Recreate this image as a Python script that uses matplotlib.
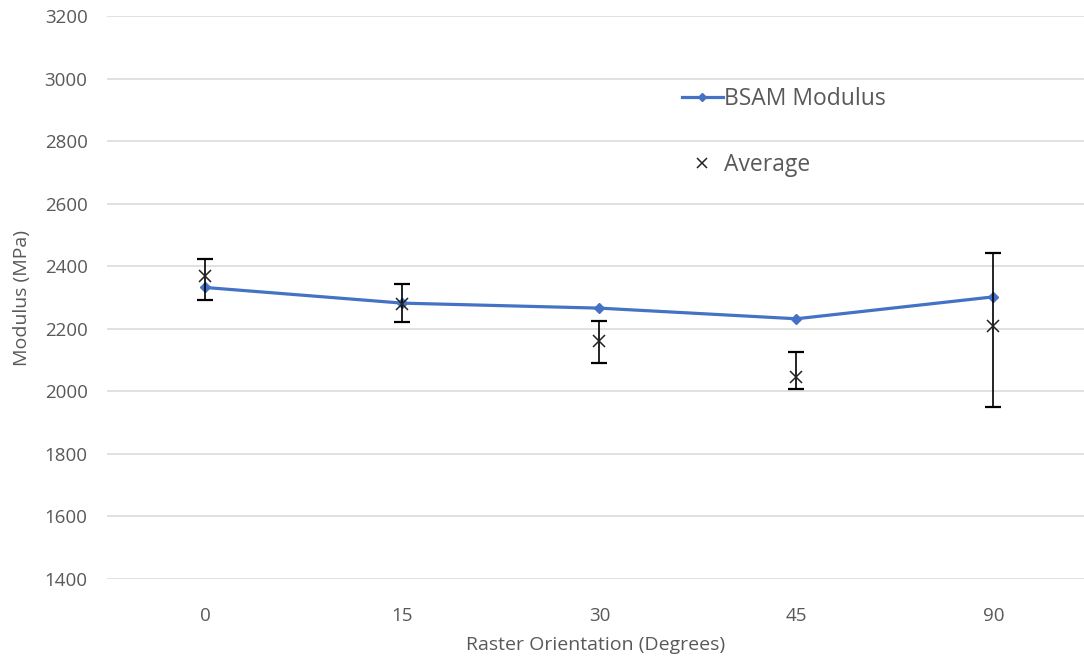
import matplotlib
matplotlib.use('Agg')
import matplotlib.pyplot as plt
import numpy as np

# raster orientation categories
categories = ['0', '15', '30', '45', '90']
bsam_modulus = [2332, 2282, 2266, 2232, 2302]
average = [2368, 2280, 2160, 2045, 2210]
err_upper = [2422, 2342, 2225, 2126, 2441]
err_lower = [2291, 2221, 2092, 2008, 1951]

plt.rcParams['font.family'] = ['Open Sans', 'DejaVu Sans']
grey = '#595959'

fig = plt.figure(figsize=(10.84, 6.59), dpi=100)
ax = fig.add_axes([107 / 1084, 1 - 579 / 659, 977 / 1084, 563 / 659])

x = np.arange(len(categories))
avg = np.array(average)
yerr = [avg - np.array(err_lower), np.array(err_upper) - avg]

ax.plot(x, bsam_modulus, color='#4472C4', lw=2.3, marker='D', ms=5,
        label='BSAM Modulus', zorder=3)
ax.errorbar(x, avg, yerr=yerr, fmt='none', ecolor='black', elinewidth=1.2,
            capsize=6, capthick=1.6, zorder=4)
ax.plot(x, avg, linestyle='none', marker='x', color='#222222', ms=9, mew=1.1,
        label='Average', zorder=5)

ax.set_ylim(1400, 3200)
ax.set_yticks(np.arange(1400, 3201, 200))
ax.set_xlim(-0.5, 4.46)
ax.set_xticks(x)
ax.set_xticklabels(categories)
ax.grid(axis='y', color='#d9d9d9', lw=1.1)
ax.set_axisbelow(True)
for s in ax.spines.values():
    s.set_visible(False)
ax.tick_params(length=0, labelsize=13.5, colors=grey, pad=14)
ax.tick_params(axis='x', pad=20)

ax.set_xlabel('Raster Orientation (Degrees)', fontsize=14, color=grey, labelpad=8)
ax.set_ylabel('Modulus (MPa)', fontsize=14, color=grey, labelpad=10)

ax.legend(loc='upper left', bbox_to_anchor=(0.567, 0.91), frameon=False,
          fontsize=16.5, labelcolor=grey, labelspacing=1.8, handlelength=1.8,
          handletextpad=0.05, markerscale=0.85)

plt.savefig('out.png', dpi=100)
